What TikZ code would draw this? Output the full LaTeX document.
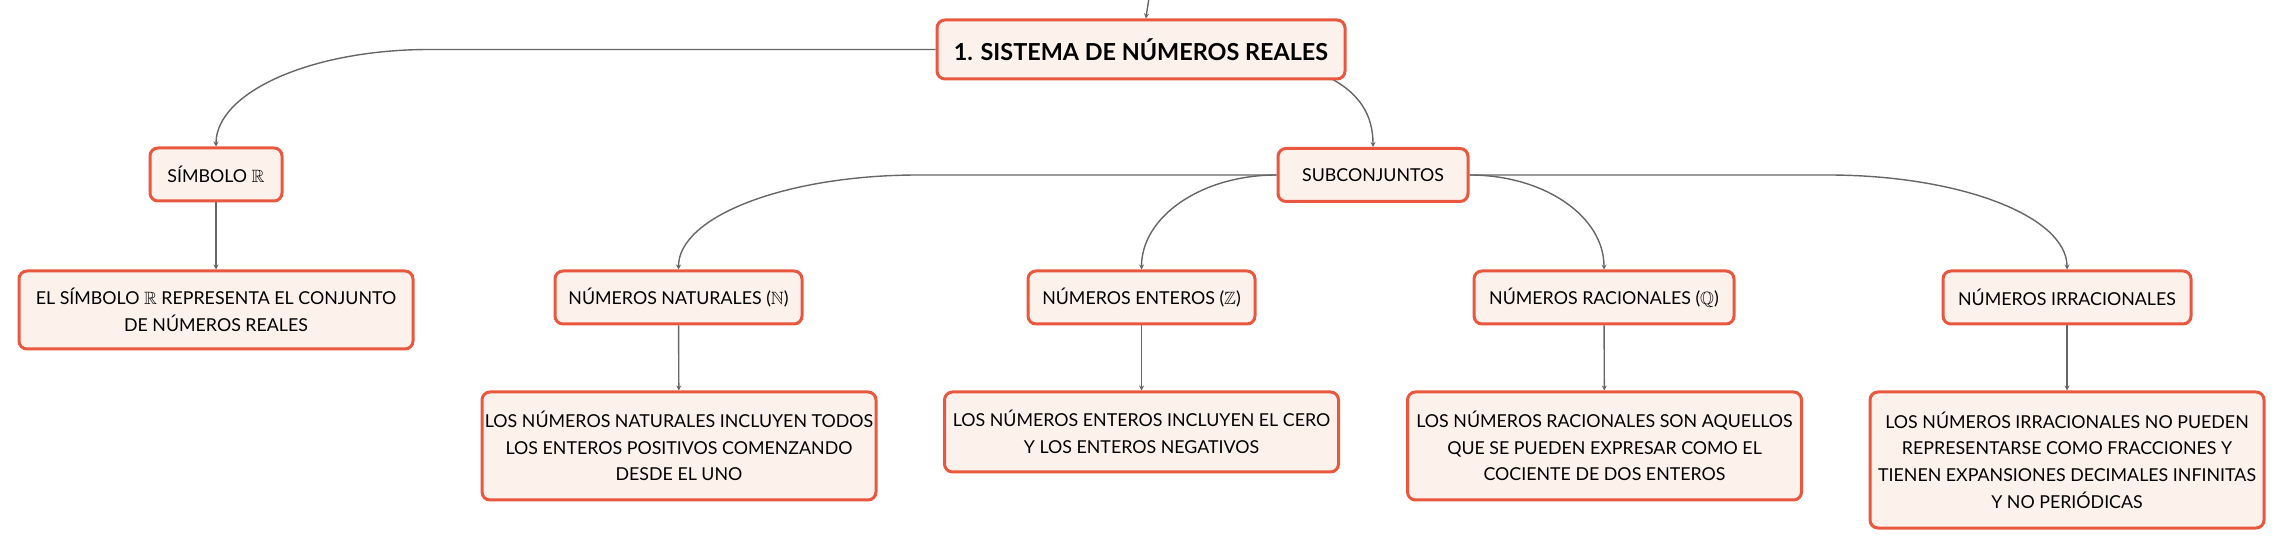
\documentclass[tikz,border=0pt]{standalone}
\usepackage{fontspec}
\setmainfont{Lato}
\usepackage{amssymb}
\usetikzlibrary{arrows.meta,backgrounds}
\definecolor{rim}{HTML}{E9573F}
\definecolor{blush}{HTML}{FDF1EC}
\definecolor{wire}{HTML}{666666}

\begin{document}
\begin{tikzpicture}[x=0.5pt, y=-0.5pt,
box/.style  = {draw=rim, fill=blush, line width=1.5pt, rounded corners=4pt,
               align=center, inner sep=0pt,
               font=\fontsize{8.9}{13.35}\selectfont},
T/.style    = {box, minimum height=26.5pt},
D/.style    = {box, minimum width=197pt},
link/.style = {draw=wire, line width=0.7pt, -{Stealth[length=2.5pt,width=2.5pt]}}
                    ]
\useasboundingbox (0,0) rectangle (2284,549);

\node (root) [box, minimum width=204pt, minimum height=29.5pt,
              font=\fontsize{11.7}{14}\selectfont\bfseries]
              at (1141,49.5) {1. SISTEMA DE NÚMEROS REALES};
\coordinate (in) at (1149,-2);

\node (sym)  [T, minimum width=66pt]    at (216,174.5)  {SÍMBOLO $\mathbb{R}$};
\node (symd) [D, minimum height=39pt]   at (216,310)    {EL SÍMBOLO $\mathbb{R}$ REPRESENTA EL CONJUNTO\\DE NÚMEROS REALES};
\node (sub)  [T, minimum width=95pt]    at (1373,175)   {SUBCONJUNTOS};

\node (nat)  [T, minimum width=123.5pt] at (678.5,297.5)  {NÚMEROS NATURALES ($\mathbb{N}$)};
\node (natd) [D, minimum height=54pt]   at (679,446)      {LOS NÚMEROS NATURALES INCLUYEN TODOS\\LOS ENTEROS POSITIVOS COMENZANDO\\DESDE EL UNO};
\node (ent)  [T, minimum width=113.5pt] at (1141.5,297.5) {NÚMEROS ENTEROS ($\mathbb{Z}$)};
\node (entd) [D, minimum height=40pt]   at (1141.5,432)   {LOS NÚMEROS ENTEROS INCLUYEN EL CERO\\Y LOS ENTEROS NEGATIVOS};
\node (rac)  [T, minimum width=130pt]   at (1604,297.5)   {NÚMEROS RACIONALES ($\mathbb{Q}$)};
\node (racd) [D, minimum height=54pt]   at (1604.5,446)   {LOS NÚMEROS RACIONALES SON AQUELLOS\\QUE SE PUEDEN EXPRESAR COMO EL\\COCIENTE DE DOS ENTEROS};
\node (irr)  [T, minimum width=124pt]   at (2067,297.5)   {NÚMEROS IRRACIONALES};
\node (irrd) [D, minimum height=68pt]   at (2067,460)     {LOS NÚMEROS IRRACIONALES NO PUEDEN\\REPRESENTARSE COMO FRACCIONES Y\\TIENEN EXPANSIONES DECIMALES INFINITAS\\Y NO PERIÓDICAS};

\begin{scope}[on background layer]
\draw[link] (in) -- (root);
\draw[link] (root.west) -- ++(-506,0) .. controls +(-119,0) and +(0,-54) .. (sym.north);
\draw[link] (root.center) .. controls +(180,0) and +(0,-60) .. (sub.north);
\draw[link] (sub.west) -- ++(-358,0) .. controls +(-133,0) and +(0,-53) .. (nat.north);
\draw[link] (sub.west) .. controls +(-75,0) and +(0,-53) .. (ent.north);
\draw[link] (sub.east) .. controls +(75,0) and +(0,-53) .. (rac.north);
\draw[link] (sub.east) -- ++(358,0) .. controls +(133,0) and +(0,-53) .. (irr.north);
\foreach \a/\b in {sym/symd, nat/natd, ent/entd, rac/racd, irr/irrd}
  \draw[link] (\a) -- (\b);
\end{scope}
\end{tikzpicture}
\end{document}
